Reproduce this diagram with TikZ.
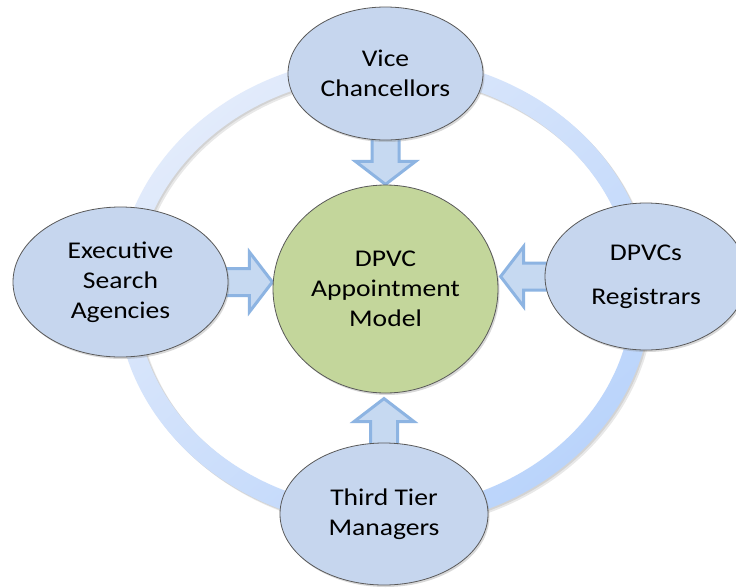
\documentclass[tikz,border=0pt]{standalone}
\usepackage{fontspec}
\setmainfont{Carlito}[FakeStretch=1.15]
\usetikzlibrary{shapes.geometric,shadows,backgrounds}
\definecolor{nodeblue}{RGB}{198,214,238}
\definecolor{hubgreen}{RGB}{195,214,155}
\definecolor{arrowfill}{RGB}{198,217,241}
\definecolor{arrowedge}{RGB}{141,180,226}
\definecolor{ringlight}{RGB}{226,235,251}
\definecolor{ringdark}{RGB}{186,212,251}
\tikzset{
  bubble/.style={ellipse, draw=black!65, line width=0.8pt, fill=nodeblue,
    inner sep=0pt, align=center, font=\fontsize{24}{30}\selectfont,
    drop shadow={shadow xshift=1.5pt, shadow yshift=-2pt, opacity=0.3}},
  hub/.style={bubble, fill=hubgreen},
  arrowline/.style={draw=arrowedge, fill=arrowfill, line width=3pt, line join=miter},
  ringshadow/.style={fill=black, opacity=0.09, even odd rule},
  barrow/.pic={\path[arrowline] (-6,-13.5) -- (21,-13.5) -- (21,-30) -- (44,0)
     -- (21,30) -- (21,13.5) -- (-6,13.5) -- cycle;}
}
\begin{document}
\begin{tikzpicture}[x=1pt, y=-1pt]
\useasboundingbox (0,0) rectangle (736,587);

\node[bubble, minimum width=195pt, minimum height=133pt] (vc) at (385.5,73.5) {Vice\\Chancellors};
\node[bubble, minimum width=215pt, minimum height=150pt] (esa) at (120.5,282) {Executive\\Search\\Agencies};
\node[bubble, minimum width=202pt, minimum height=147pt] (dpvcs) at (646,276.5) {DPVCs\\[14pt]Registrars};
\node[bubble, minimum width=208pt, minimum height=142pt] (ttm) at (384,514) {Third Tier\\Managers};
\node[hub, minimum width=225pt, minimum height=208pt] (model) at (385.5,289) {DPVC\\Appointment\\Model};

\begin{pgfonlayer}{background}
  \fill[white] (0,0) rectangle (736,587);
  \fill[ringshadow]
    (385.5,293.5) ellipse (267.5 and 235.5) (385.5,293.5) ellipse (248.5 and 216.5);
  \fill[ringshadow]
    (387,295) ellipse (267.5 and 235.5) (387,295) ellipse (248.5 and 216.5);
  \shade[even odd rule, top color=ringlight, bottom color=ringdark, shading angle=40]
    (384,292) ellipse (267.5 and 235.5) (384,292) ellipse (248.5 and 216.5);
  \pic[rotate=-90] at (vc.south) {barrow};
  \pic[rotate=90] at (ttm.north) {barrow};
  \pic at (esa.east) {barrow};
  \pic[rotate=180] at (dpvcs.west) {barrow};
\end{pgfonlayer}
\end{tikzpicture}
\end{document}
